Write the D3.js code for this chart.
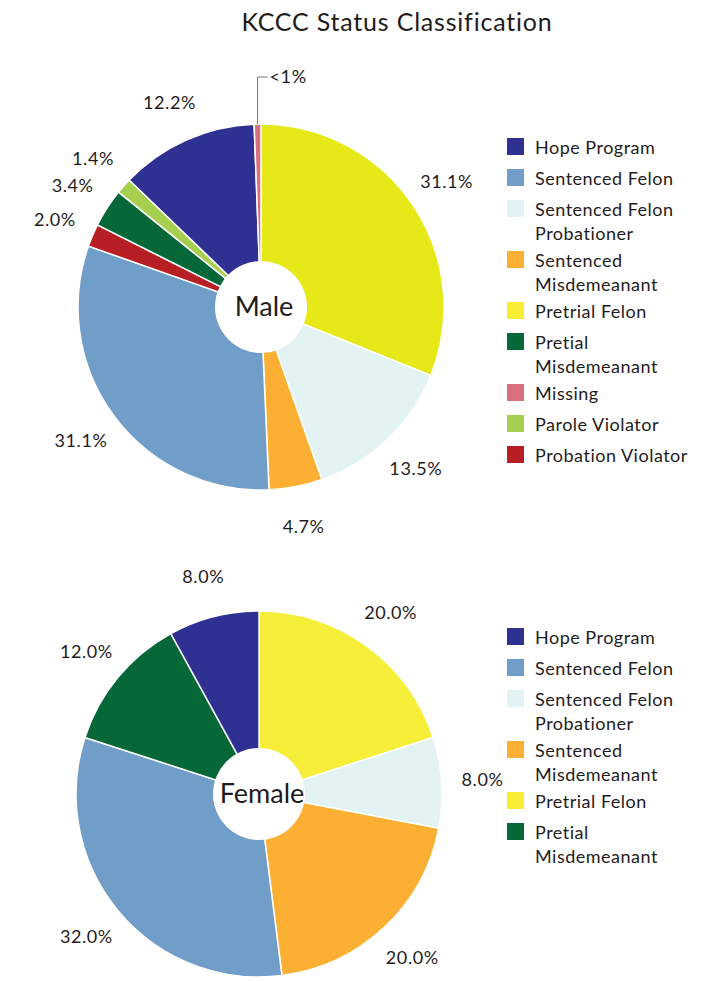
<!DOCTYPE html>
<html>
<head>
<meta charset="utf-8">
<script src="https://cdn.jsdelivr.net/npm/d3@7"></script>
<style>
  html, body { margin: 0; padding: 0; background: #fff; }
  svg text { font-family: Lato, "Open Sans", sans-serif; fill: #1f1c1d; }
</style>
</head>
<body>
<svg id="chart" width="705" height="981"></svg>
<script>
// ---- data ----
const title = "KCCC Status Classification";

const maleCategories = ["Pretrial Felon", "Sentenced Felon Probationer", "Sentenced Misdemeanant",
  "Sentenced Felon", "Probation Violator", "Pretial Misdemeanant", "Parole Violator", "Hope Program", "Missing"];
const maleValues = [31.1, 13.5, 4.7, 31.1, 2.0, 3.4, 1.4, 12.2, 0.6];
const maleLabels = ["31.1%", "13.5%", "4.7%", "31.1%", "2.0%", "3.4%", "1.4%", "12.2%", "<1%"];

const femaleCategories = ["Pretrial Felon", "Sentenced Felon Probationer", "Sentenced Misdemeanant",
  "Sentenced Felon", "Pretial Misdemeanant", "Hope Program"];
const femaleValues = [20.0, 8.0, 20.0, 32.0, 12.0, 8.0];
const femaleLabels = ["20.0%", "8.0%", "20.0%", "32.0%", "12.0%", "8.0%"];

const maleLegend = ["Hope Program", "Sentenced Felon", "Sentenced Felon Probationer", "Sentenced Misdemeanant",
  "Pretrial Felon", "Pretial Misdemeanant", "Missing", "Parole Violator", "Probation Violator"];
const femaleLegend = ["Hope Program", "Sentenced Felon", "Sentenced Felon Probationer", "Sentenced Misdemeanant",
  "Pretrial Felon", "Pretial Misdemeanant"];

// legend text line breaks
const legendLines = {
  "Hope Program": ["Hope Program"],
  "Sentenced Felon": ["Sentenced Felon"],
  "Sentenced Felon Probationer": ["Sentenced Felon", "Probationer"],
  "Sentenced Misdemeanant": ["Sentenced", "Misdemeanant"],
  "Pretrial Felon": ["Pretrial Felon"],
  "Pretial Misdemeanant": ["Pretial", "Misdemeanant"],
  "Missing": ["Missing"],
  "Parole Violator": ["Parole Violator"],
  "Probation Violator": ["Probation Violator"]
};

// ---- styles ----
const colorDomain = ["Hope Program", "Sentenced Felon", "Sentenced Felon Probationer", "Sentenced Misdemeanant",
  "Pretrial Felon", "Pretial Misdemeanant", "Missing", "Parole Violator", "Probation Violator"];
const colorRange = ["#2e3192", "#709ec9", "#e3f2f3", "#fbb034", "#f8ee36", "#066838", "#dc6f7f", "#a6cf50", "#b81f25"];
const color = d3.scaleOrdinal().domain(colorDomain).range(colorRange);

const svg = d3.select("#chart");

svg.append("text")
  .attr("x", 397).attr("y", 31)
  .attr("text-anchor", "middle")
  .style("font-size", "25px")
  .style("letter-spacing", "0.8px")
  .text(title);

function drawPie(cfg) {
  const g = svg.append("g").attr("transform", `translate(${cfg.cx},${cfg.cy})`);
  const data = cfg.categories.map((c, i) => ({ cat: c, value: cfg.values[i], label: cfg.labels[i] }));
  const pie = d3.pie().sort(null).value(d => d.value);
  const arcs = pie(data);
  const R = 183;
  const arc = d3.arc().innerRadius(0).outerRadius(R);
  const labelArc = d3.arc().innerRadius(224).outerRadius(224);

  g.selectAll("path.slice").data(arcs).join("path")
    .attr("class", "slice")
    .attr("d", arc)
    .attr("fill", d => (d.data.cat === "Pretrial Felon" && cfg.pretrialColor) ? cfg.pretrialColor : color(d.data.cat))
    .attr("stroke", "#fff")
    .attr("stroke-width", 1.5);

  g.append("circle").attr("r", 46).attr("fill", "#fff");
  g.append("text")
    .attr("x", 3).attr("y", 0).attr("dy", "0.35em")
    .attr("text-anchor", "middle")
    .style("font-size", "27px")
    .text(cfg.name);

  arcs.forEach(d => {
    const mid = (d.startAngle + d.endAngle) / 2;
    if (d.data.value < 1) {
      // leader line
      const x0 = Math.sin(mid) * R, y0 = -Math.cos(mid) * R;
      const yTop = -(R + 47);
      g.append("path")
        .attr("d", `M${x0},${y0}V${yTop}H${x0 + 10}`)
        .attr("fill", "none").attr("stroke", "#777").attr("stroke-width", 1);
      g.append("text")
        .attr("x", x0 + 12).attr("y", yTop).attr("dy", "0.35em")
        .style("font-size", "18px")
        .style("letter-spacing", "0.6px")
        .text(d.data.label);
    } else {
      const [lx, ly] = labelArc.centroid(d);
      g.append("text")
        .attr("x", lx).attr("y", ly).attr("dy", "0.35em")
        .attr("text-anchor", "middle")
        .style("font-size", "18px")
        .style("letter-spacing", "0.6px")
        .text(d.data.label);
    }
  });
}

function drawLegend(items, x, y0) {
  const g = svg.append("g").attr("transform", `translate(${x},${y0})`);
  let y = 0;
  items.forEach(item => {
    const lines = legendLines[item];
    const row = g.append("g").attr("transform", `translate(0,${y})`);
    row.append("rect").attr("width", 17).attr("height", 17).attr("fill", color(item));
    const t = row.append("text").attr("x", 28).attr("y", 10).style("font-size", "18px").style("letter-spacing", "0.5px");
    lines.forEach((ln, i) => {
      t.append("tspan").attr("x", 28).attr("dy", i === 0 ? "0.35em" : "24px").text(ln);
    });
    y += 31 + 20 * (lines.length - 1);
  });
}

drawPie({ cx: 261, cy: 307, name: "Male", categories: maleCategories, values: maleValues, labels: maleLabels, pretrialColor: "#e6e817" });
drawPie({ cx: 259, cy: 794, name: "Female", categories: femaleCategories, values: femaleValues, labels: femaleLabels, pretrialColor: "#f7ee3a" });

drawLegend(maleLegend, 507, 138);
drawLegend(femaleLegend, 507, 628);
</script>
</body>
</html>
